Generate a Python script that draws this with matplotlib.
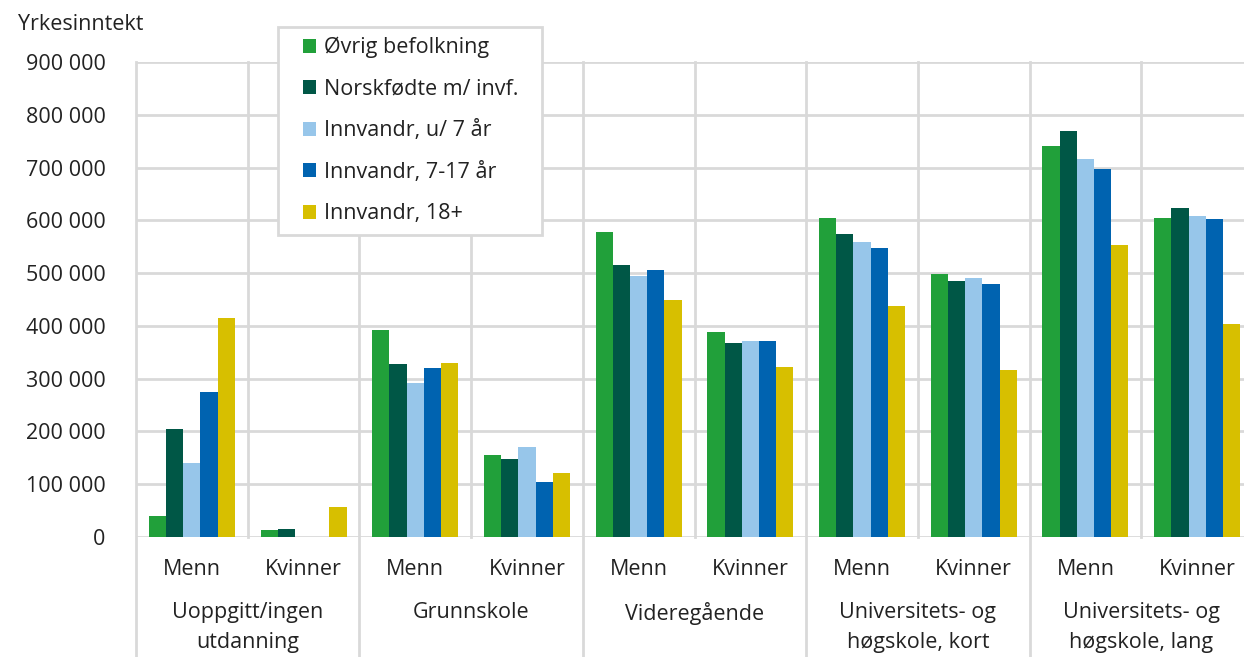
import numpy as np
import matplotlib.pyplot as plt
from matplotlib.patches import Rectangle
from matplotlib.transforms import blended_transform_factory
from matplotlib.ticker import FuncFormatter

plt.rcParams['font.family'] = ['Open Sans', 'DejaVu Sans']

# data
groups = ["Uoppgitt/ingen\nutdanning", "Grunnskole", "Videregående",
          "Universitets- og\nhøgskole, kort", "Universitets- og\nhøgskole, lang"]
sexes = ["Menn", "Kvinner"]
series = ["Øvrig befolkning", "Norskfødte m/ invf.", "Innvandr, u/ 7 år",
          "Innvandr, 7-17 år", "Innvandr, 18+"]
colors = ["#21a03a", "#005746", "#97c6ea", "#0063b0", "#d7bf00"]

ovrig = [40000, 14000, 393000, 156000, 577000, 389000, 604000, 499000, 740000, 605000]
norskfodte = [205000, 16000, 328000, 148000, 516000, 367000, 575000, 486000, 770000, 623000]
innv_u7 = [140000, np.nan, 291000, 171000, 494000, 371000, 559000, 491000, 717000, 609000]
innv_7_17 = [275000, np.nan, 321000, 105000, 505000, 371000, 547000, 480000, 698000, 602000]
innv_18 = [415000, 57000, 330000, 122000, 449000, 323000, 438000, 316000, 554000, 403000]
values = [ovrig, norskfodte, innv_u7, innv_7_17, innv_18]

W, H = 1244, 657
FS = 15.5
TXT = "#222222"
grid_c = "#d9d9d9"

fig = plt.figure(figsize=(W / 100, H / 100), dpi=100)
ax_left, ax_right, ax_zero, ax_top = 136, 1253, 537, 62
ax = fig.add_axes([ax_left / W, (H - ax_zero) / H, (ax_right - ax_left) / W, (ax_zero - ax_top) / H])

n = len(ovrig)
centers = np.arange(n) + 0.5
bw = 0.154
for i, (vals, col, name) in enumerate(zip(values, colors, series)):
    ax.bar(centers + (i - 2) * bw, vals, width=bw, color=col, label=name, linewidth=0, zorder=3)

ax.set_xlim(0, n)
ax.set_ylim(0, 900000)
ax.set_yticks(np.arange(0, 900001, 100000))
ax.yaxis.set_major_formatter(FuncFormatter(lambda v, p: f"{int(v):,}".replace(",", " ")))
ax.tick_params(axis='y', length=0, pad=22, labelsize=FS, labelcolor=TXT)
ax.set_xticks([])
for s in ax.spines.values():
    s.set_visible(False)

ax.yaxis.grid(True, color=grid_c, linewidth=2, zorder=0)
ax.set_axisbelow(True)

trans = blended_transform_factory(ax.transData, ax.transAxes)
# inner separators between Menn / Kvinner
for k in range(1, n, 2):
    ax.plot([k, k], [0, 1], transform=trans, color=grid_c, lw=2, zorder=1, clip_on=False)
# group separators reaching down into the label area
for k in range(0, n + 1, 2):
    ax.plot([k, k], [-0.27, 1], transform=trans, color=grid_c, lw=2, zorder=1, clip_on=False)

for j, c in enumerate(centers):
    ax.text(c, -0.069, sexes[j % 2], transform=trans, ha='center', va='center',
            fontsize=FS, color=TXT)
for g, name in enumerate(groups):
    ax.text(2 * g + 1, -0.137, name, transform=trans, ha='center', va='top',
            fontsize=FS, color=TXT, linespacing=1.55)

fig.text(18 / W, 1 - 25 / H, "Yrkesinntekt", ha='left', va='center', fontsize=FS, color=TXT)

# legend box drawn by hand, entries as figure legend on top
box = Rectangle((278 / W, 1 - 235 / H), (542 - 278) / W, (235 - 27) / H, transform=fig.transFigure,
                facecolor='white', edgecolor=grid_c, linewidth=2, zorder=4)
fig.patches.append(box)
handles, labels = ax.get_legend_handles_labels()
leg = fig.legend(handles, labels, loc='upper left', bbox_to_anchor=(303 / W, 1 - 37 / H),
                 bbox_transform=fig.transFigure, borderaxespad=0, borderpad=0, fontsize=FS,
                 frameon=False, handlelength=0.62, handleheight=0.62, handletextpad=0.35,
                 labelspacing=0.95)
for t in leg.get_texts():
    t.set_color(TXT)
leg.set_zorder(5)

fig.savefig("out.png", dpi=100)
